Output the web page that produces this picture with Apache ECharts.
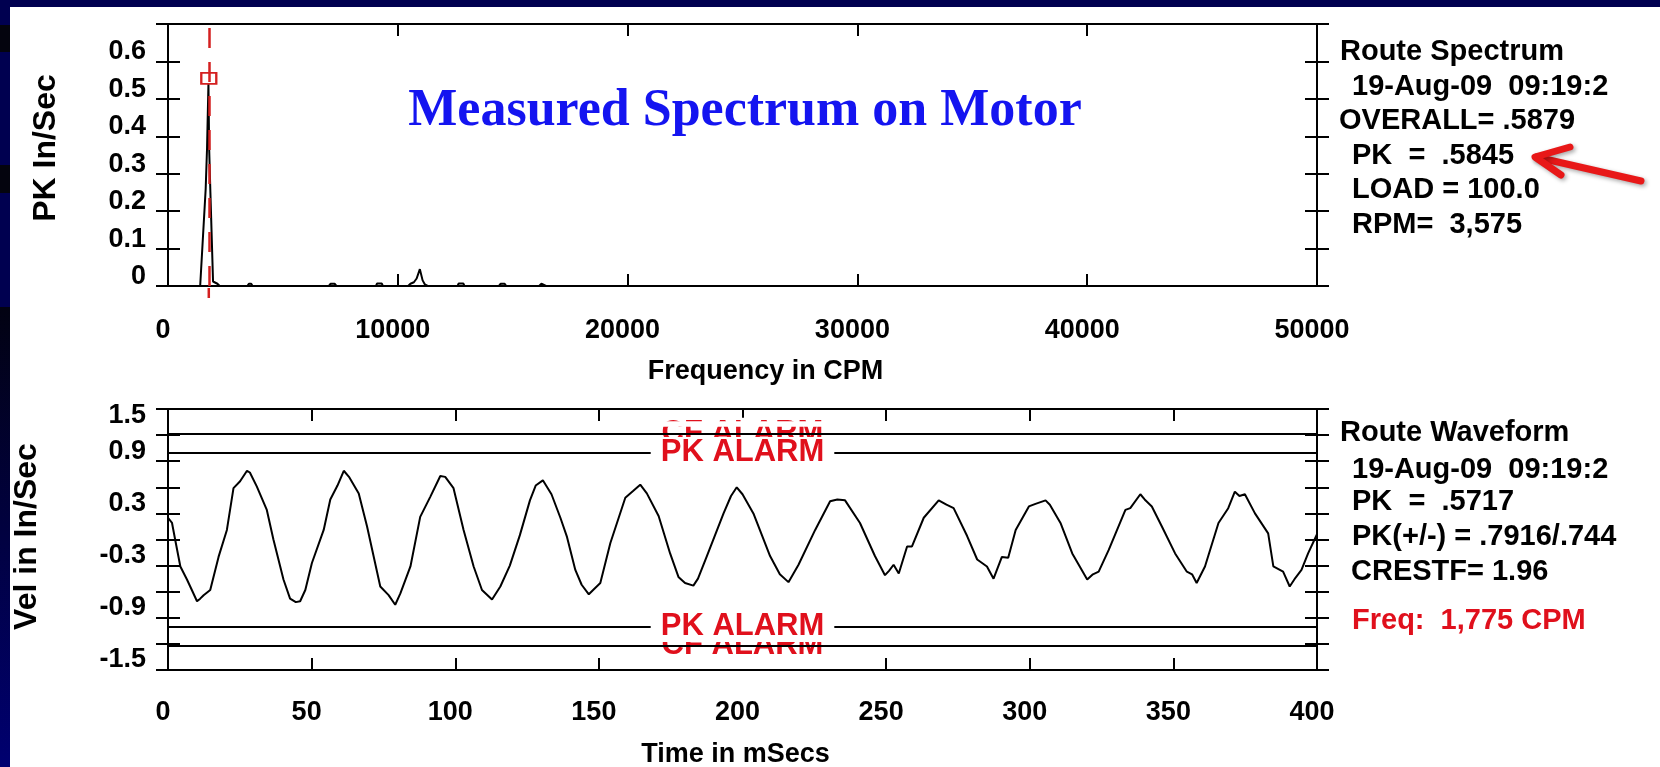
<!DOCTYPE html>
<html>
<head>
<meta charset="utf-8">
<title>Measured Spectrum on Motor</title>
<script src="https://cdn.jsdelivr.net/npm/echarts@6/dist/echarts.min.js"></script>
<style>
html, body { margin: 0; padding: 0; background: #fff; }
#main { width: 1660px; height: 767px; }
</style>
</head>
<body>
<div id="main"></div>
<script>
// spectrum, [CPM, PK In/Sec]
var spectrumPoints = [
    [0, 0], [1400, 0], [1460, 0.004], [1640, 0.26], [1700, 0.37], [1760, 0.54], [1790, 0.37],
    [1845, 0.25], [1960, 0.012], [2150, 0.006], [2250, 0], [3450, 0], [3520, 0.006], [3620, 0.006],
    [3680, 0], [7000, 0], [7080, 0.006], [7250, 0.006], [7330, 0], [9050, 0], [9100, 0.007],
    [9300, 0.007], [9350, 0], [10450, 0], [10550, 0.006], [10700, 0.01], [10820, 0.02],
    [10960, 0.045], [11080, 0.015], [11180, 0.004], [11300, 0], [12600, 0], [12650, 0.007],
    [12850, 0.007], [12900, 0], [14400, 0], [14480, 0.006], [14650, 0.006], [14720, 0],
    [16150, 0], [16250, 0.006], [16450, 0], [50000, 0]
];
var peakFreq = 1775;
var peakMarker = [[1775, 0.555]];

// waveform, [mSecs, Vel In/Sec]
var wavePoints = [
    [0, 0.25], [1.4, 0.19], [2.6, -0.02], [4.3, -0.31], [6.6, -0.46], [8.3, -0.58], [10.1, -0.71],
    [11.2, -0.68], [12.4, -0.64], [14.7, -0.58], [17.6, -0.2], [20.5, 0.11], [22.8, 0.59],
    [25.1, 0.67], [27.5, 0.79], [28.5, 0.77], [30.9, 0.61], [34.4, 0.34], [36.7, 0], [40.2, -0.46],
    [42.5, -0.68], [44.5, -0.72], [46, -0.71], [47.8, -0.58], [50.1, -0.27], [54.2, 0.11],
    [56.5, 0.46], [59, 0.62], [61.2, 0.79], [63, 0.72], [66.4, 0.53], [69.3, 0.15], [73.9, -0.54],
    [76.8, -0.64], [79.1, -0.75], [80.9, -0.62], [84.4, -0.31], [87.8, 0.26], [91.3, 0.49],
    [94.8, 0.73], [96.5, 0.72], [99.4, 0.59], [102.9, 0.11], [106.4, -0.31], [109.3, -0.58],
    [112.8, -0.69], [115.7, -0.54], [119, -0.3], [122.5, 0.05], [126, 0.45], [128, 0.62],
    [130.5, 0.68], [133.5, 0.52], [136.6, 0.25], [138.9, 0.03], [141.8, -0.35], [144, -0.52],
    [146.5, -0.63], [148, -0.58], [150.5, -0.5], [154, -0.04], [159.2, 0.48], [162, 0.56],
    [164.4, 0.63], [166.7, 0.53], [170.8, 0.27], [174.8, -0.16], [177.7, -0.43], [180, -0.5],
    [182.9, -0.53], [184.5, -0.45], [187.6, -0.19], [193.4, 0.3], [196, 0.5], [198, 0.6],
    [200, 0.52], [203.8, 0.3], [209.6, -0.19], [213, -0.4], [216, -0.49], [219.5, -0.29],
    [225.3, 0.11], [230.5, 0.44], [233, 0.46], [235.7, 0.45], [240.9, 0.19], [246.1, -0.19],
    [249.6, -0.41], [251, -0.36], [252.6, -0.29], [254.4, -0.39], [257.3, -0.08], [259, -0.08],
    [263.1, 0.25], [268.3, 0.45], [271, 0.4], [273.5, 0.36], [278.2, 0.04], [281.7, -0.23],
    [285.1, -0.31], [287.4, -0.45], [290.3, -0.2], [292.5, -0.21], [295.1, 0.11], [299.7, 0.38],
    [302, 0.41], [305.5, 0.45], [307, 0.4], [310.7, 0.19], [314.8, -0.16], [320, -0.46],
    [322, -0.4], [324, -0.37], [327.5, -0.12], [333.3, 0.34], [335, 0.36], [338.5, 0.52],
    [340, 0.46], [342.5, 0.38], [346, 0.15], [350.6, -0.16], [354.7, -0.37], [356.5, -0.4],
    [358.1, -0.5], [361, -0.31], [365.7, 0.19], [369.1, 0.36], [371.4, 0.55], [373, 0.5],
    [374.9, 0.52], [378.4, 0.3], [383, 0.07], [384.8, -0.31], [388.2, -0.37], [390.5, -0.54],
    [392.5, -0.44], [394.6, -0.35], [396.9, -0.16], [400, 0.06]
];
var pkAlarm = 1.0;
var cfAlarm = 1.22;
var alarmTime = 200;

var spectrumInfo = ['Route Spectrum', '19-Aug-09  09:19:2', 'OVERALL= .5879', 'PK  =  .5845', 'LOAD = 100.0', 'RPM=  3,575'];
var waveformInfo = ['Route Waveform', '19-Aug-09  09:19:2', 'PK  =  .5717', 'PK(+/-) = .7916/.744', 'CRESTF= 1.96'];
var freqNote = 'Freq:  1,775 CPM';

var FONT = '"Liberation Sans", Arial, Helvetica, sans-serif';
var RED = '#e0101c';

var myChart = echarts.init(document.getElementById('main'));

function tickStyle(inside) {
    return { show: true, inside: inside, length: 12, lineStyle: { color: '#000', width: 2 } };
}
var blackLine = { show: true, onZero: false, lineStyle: { color: '#000', width: 2 } };

// four y axes per grid: left/right, each with inside + outside ticks so they cross the frame
function yAxisSet(grid, min, max, interval, label, name, nameGap, namePad) {
    var list = [];
    [['left', true], ['left', false], ['right', true], ['right', false]].forEach(function (p, i) {
        var ax = {
            type: 'value', gridIndex: grid, position: p[0], min: min, max: max, interval: interval,
            axisLine: blackLine, axisTick: tickStyle(p[1]), splitLine: { show: false },
            axisLabel: { show: false }
        };
        if (i == 0) {
            ax.axisLabel = label;
            ax.name = name;
            ax.nameLocation = 'middle';
            ax.nameGap = nameGap;
            ax.nameTextStyle = { fontFamily: FONT, fontWeight: 'bold', fontSize: 32, color: '#000', padding: namePad };
        }
        list.push(ax);
    });
    return list;
}
function xAxisSet(grid, max, interval, margin, name, nameGap, namePad) {
    var base = { type: 'value', gridIndex: grid, min: 0, max: max, interval: interval,
        axisLine: blackLine, axisTick: tickStyle(true), splitLine: { show: false } };
    var bottom = Object.assign({}, base, {
        position: 'bottom',
        axisLabel: { fontFamily: FONT, fontWeight: 'bold', fontSize: 27, color: '#000', margin: margin,
            padding: [0, 10, 0, 0],
            formatter: function (v) { return String(v); } },
        name: name, nameLocation: 'middle', nameGap: nameGap,
        nameTextStyle: { fontFamily: FONT, fontWeight: 'bold', fontSize: 27, color: '#000', padding: namePad }
    });
    var top = Object.assign({}, base, { position: 'top', axisLabel: { show: false } });
    return [bottom, top];
}

var tickFont = { fontFamily: FONT, fontWeight: 'bold', fontSize: 27, color: '#000' };
var specLabel = {
    fontFamily: FONT, fontWeight: 'bold', fontSize: 27, color: '#000', margin: 22,
    formatter: function (v) {
        if (v > 0.65) return '';
        return '{u|' + (v == 0 ? '0' : v.toFixed(1)) + '}';
    },
    rich: { u: Object.assign({ padding: [0, 0, 19, 0] }, tickFont) }
};
var waveLabel = {
    fontFamily: FONT, fontWeight: 'bold', fontSize: 27, color: '#000', margin: 22,
    formatter: function (v) {
        var k = Math.round(v * 10);
        if (Math.abs(k) % 6 != 3) return '';
        if (k == 15) return '{d|' + v.toFixed(1) + '}';
        return '{u|' + v.toFixed(1) + '}';
    },
    rich: {
        u: Object.assign({ padding: [0, 0, 20, 0] }, tickFont),
        d: Object.assign({ padding: [14, 0, 0, 0] }, tickFont)
    }
};

var alarmLevels = [pkAlarm, cfAlarm, -pkAlarm, -cfAlarm];

function alarmLabel(text) {
    return {
        show: true, position: 'inside', formatter: text,
        fontFamily: FONT, fontWeight: 'bold', fontSize: 31, color: RED,
        backgroundColor: '#fff', padding: [1, 10], lineHeight: 29
    };
}

var textLines = [];
function addText(id, text, x, y, color) {
    textLines.push({
        type: 'text', id: id, z: 20, x: x, y: y,
        style: { text: text, fill: color || '#000', fontFamily: FONT, fontWeight: 'bold', fontSize: 29, verticalAlign: 'middle', align: 'left' }
    });
}
var specX = [1340, 1352, 1339, 1352, 1352, 1352];
spectrumInfo.forEach(function (t, i) { addText('si' + i, t, specX[i], 52 + i * 34.6); });
var waveY = [433, 470, 502, 537, 572];
var waveX = [1340, 1352, 1352, 1352, 1351];
waveformInfo.forEach(function (t, i) { addText('wi' + i, t, waveX[i], waveY[i]); });
addText('freq', freqNote, 1352, 621, RED);

var backdrop = [
    { type: 'rect', id: 'topBand', z: -10, shape: { x: 0, y: 0, width: 1660, height: 7 }, style: { fill: '#000050' } },
    { type: 'rect', id: 'leftBand', z: -10, shape: { x: 0, y: 0, width: 10, height: 767 }, style: { fill: '#000050' } },
    { type: 'rect', id: 'lb1', z: -9, shape: { x: 0, y: 25, width: 10, height: 27 }, style: { fill: '#04040e' } },
    { type: 'rect', id: 'lb2', z: -9, shape: { x: 0, y: 165, width: 10, height: 28 }, style: { fill: '#04040e' } },
    { type: 'rect', id: 'lb3', z: -9, shape: { x: 0, y: 307, width: 10, height: 460 },
        style: { fill: new echarts.graphic.LinearGradient(0, 0, 0, 1, [{ offset: 0, color: '#020212' }, { offset: 1, color: '#000070' }]) } },
    {
        type: 'text', id: 'title', z: 20, x: 745, y: 112,
        style: { text: 'Measured Spectrum on Motor', fill: '#1414f0', fontFamily: '"Liberation Serif", "Times New Roman", serif',
            fontWeight: 'bold', fontSize: 52, align: 'center', verticalAlign: 'middle' }
    },
    {
        type: 'polyline', id: 'arrowShaft', z: 20, shape: { points: [[1641, 181], [1536, 157]] },
        style: { stroke: '#e81818', lineWidth: 7, lineCap: 'round', shadowBlur: 4, shadowOffsetX: 2, shadowOffsetY: 2, shadowColor: 'rgba(0,0,0,0.35)' }
    },
    {
        type: 'polyline', id: 'arrowHead', z: 20, shape: { points: [[1570, 147], [1535, 157], [1561, 175]] },
        style: { stroke: '#e81818', fill: null, lineWidth: 7, lineCap: 'round', lineJoin: 'round', shadowBlur: 4, shadowOffsetX: 2, shadowOffsetY: 2, shadowColor: 'rgba(0,0,0,0.35)' }
    }
];

var hidden = { color: 'rgba(0,0,0,0)', opacity: 1 };

var option = {
    animation: false,
    backgroundColor: '#fff',
    grid: [
        { left: 168, right: 343, top: 24, height: 262, outerBoundsMode: 'none' },
        { left: 168, right: 343, top: 409, height: 261, outerBoundsMode: 'none' }
    ],
    xAxis: xAxisSet(0, 50000, 10000, 31, 'Frequency in CPM', 72, [0, 0, 0, 46])
        .concat(xAxisSet(1, 400, 50, 29, 'Time in mSecs', 71, [0, 14, 0, 0])),
    yAxis: yAxisSet(0, 0, 0.7, 0.1, specLabel, 'PK In/Sec', 106, [0, 0, 0, 14])
        .concat(yAxisSet(1, -1.5, 1.5, 0.3, waveLabel, 'Vel in In/Sec', 125, [0, 0, 0, 6])),
    series: [
        {
            name: 'peakLine', type: 'line', xAxisIndex: 0, yAxisIndex: 0, data: [], z: 1,
            markLine: {
                silent: true, symbol: 'none', label: { show: false },
                lineStyle: { color: '#d42020', width: 2.5, type: [20, 14] },
                data: [{ xAxis: peakFreq }]
            }
        },
        {
            name: 'spectrum', type: 'line', xAxisIndex: 0, yAxisIndex: 0, data: spectrumPoints, z: 2,
            showSymbol: false, symbol: 'none', lineStyle: { color: '#000', width: 2 }
        },
        {
            name: 'peak', type: 'scatter', xAxisIndex: 0, yAxisIndex: 0, data: peakMarker, z: 3,
            symbol: 'rect', symbolSize: [15, 11],
            itemStyle: { color: '#fff', borderColor: '#d42020', borderWidth: 2, opacity: 1 }
        },
        {
            name: 'alarms', type: 'line', xAxisIndex: 2, yAxisIndex: 4, data: [], z: 2,
            markLine: {
                silent: true, symbol: 'none', label: { show: false },
                lineStyle: { color: '#000', width: 2, type: 'solid' },
                data: alarmLevels.map(function (v) { return { yAxis: v }; })
            }
        },
        {
            name: 'waveform', type: 'line', xAxisIndex: 2, yAxisIndex: 4, data: wavePoints, z: 3,
            showSymbol: false, symbol: 'none', lineStyle: { color: '#000', width: 2 }
        },
        {
            name: 'cfLabels', type: 'scatter', xAxisIndex: 2, yAxisIndex: 4, z: 4,
            data: [[alarmTime, cfAlarm], [alarmTime, -cfAlarm]],
            symbolSize: 1, itemStyle: hidden, label: alarmLabel('CF ALARM')
        },
        {
            name: 'pkLabels', type: 'scatter', xAxisIndex: 2, yAxisIndex: 4, z: 5,
            data: [[alarmTime, pkAlarm], [alarmTime, -pkAlarm]],
            symbolSize: 1, itemStyle: hidden, label: alarmLabel('PK ALARM')
        }
    ],
    graphic: { elements: backdrop.concat(textLines) }
};

myChart.setOption(option);

// white patches that leave only a slice of the CF ALARM labels, as in the plot
var toWave = { xAxisIndex: 2, yAxisIndex: 4 };
var cfTop = myChart.convertToPixel(toWave, [alarmTime, cfAlarm]);
var cfBot = myChart.convertToPixel(toWave, [alarmTime, -cfAlarm]);
var gridBottom = myChart.convertToPixel(toWave, [alarmTime, -1.5]);
// the dashed peak cursor runs a little past the frequency axis
var peakBase = myChart.convertToPixel({ xAxisIndex: 0, yAxisIndex: 0 }, [peakFreq, 0]);
myChart.setOption({
    graphic: {
        elements: [
            { type: 'rect', id: 'cfMaskTop', z: 10, shape: { x: cfTop[0] - 92, y: cfTop[1] - 12, width: 184, height: 5.5 }, style: { fill: '#fff' } },
            { type: 'rect', id: 'cfMaskBot', z: 10, shape: { x: cfBot[0] - 92, y: cfBot[1] + 11, width: 184, height: gridBottom[1] - cfBot[1] - 12 }, style: { fill: '#fff' } },
            { type: 'line', id: 'peakTail', z: 10, shape: { x1: peakBase[0], y1: peakBase[1] + 2, x2: peakBase[0], y2: peakBase[1] + 12 }, style: { stroke: '#d42020', lineWidth: 2.5 } }
        ]
    }
});
</script>
</body>
</html>
